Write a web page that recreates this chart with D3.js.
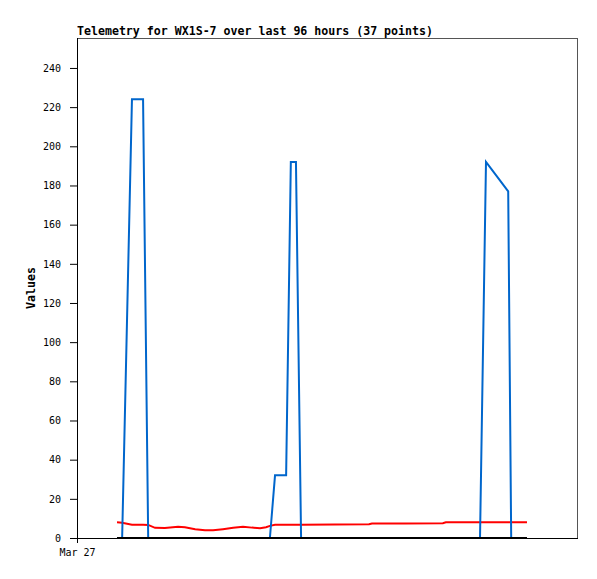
<!DOCTYPE html>
<html><head><meta charset="utf-8">
<script src="https://cdn.jsdelivr.net/npm/d3@7"></script>
<style>body{margin:0;background:#fff}svg{display:block}</style>
</head><body>
<script>
// hours since first sample
const hours = [0,1.2,3.5,6.1,7.3,8.9,11.2,14.3,15.9,18.3,20.6,22.5,24.8,27.2,29.5,31.6,33.5,34.9,35.8,37.0,39.6,40.7,41.9,43.1,51.0,59.0,59.7,67.4,76.3,77.0,85.0,86.4,89.0,91.6,92.3,94.1,96.0];
const blueSeries = [0,0,224,224,0,0,0,0,0,0,0,0,0,0,0,0,0,0,0,32,32,192,192,0,0,0,0,0,0,0,0,192,184.5,177,0,0,0];
const redSeries = [8.0,7.8,6.8,6.8,6.7,5.2,5.1,5.8,5.5,4.5,3.9,3.9,4.5,5.2,5.8,5.3,5.0,5.5,6.2,6.8,6.8,6.8,6.8,6.8,6.9,7.0,7.4,7.4,7.5,8.0,8.0,8.0,8.0,8.0,8.0,8.0,8.0];
const blackSeries = hours.map(() => 0);
const yTicks = [0,20,40,60,80,100,120,140,160,180,200,220,240];
const xTickLabel = "Mar 27";
const titleText = "Telemetry for WX1S-7 over last 96 hours (37 points)";

const W = 597, H = 579;
const L = 77, R = 577, T = 38, B = 538;
const svg = d3.select("body").append("svg").attr("width", W).attr("height", H);
const mono = "'DejaVu Sans Mono', monospace";

const x = d3.scaleLinear().domain([-9.37, 107.71]).range([L, R]);
const y = d3.scaleLinear().domain([0, 255.3]).range([B, T]);

// frame
svg.append("rect").attr("x", L + 0.5).attr("y", T + 0.5).attr("width", R - L).attr("height", B - T)
  .attr("fill", "none").attr("stroke", "#555").attr("stroke-width", 1);

const line = d3.line().x((d, i) => x(hours[i])).y(d => y(d));
svg.append("path").datum(redSeries).attr("d", line).attr("fill", "none").attr("stroke", "#ff0000").attr("stroke-width", 2);
svg.append("path").datum(blueSeries).attr("d", line).attr("fill", "none").attr("stroke", "#0066cc").attr("stroke-width", 2);
svg.append("path").datum(blackSeries).attr("d", line).attr("fill", "none").attr("stroke", "#000").attr("stroke-width", 2);

// y axis
const ya = svg.append("g").attr("transform", `translate(${L},0)`)
  .call(d3.axisLeft(y).tickValues(yTicks).tickSize(7).tickPadding(9));
ya.select(".domain").remove();
ya.selectAll("text").attr("font-family", mono).attr("font-size", "10px").attr("fill", "#000");
ya.selectAll("line").attr("stroke", "#000");

// x axis
const xa = svg.append("g").attr("transform", `translate(0,${B})`)
  .call(d3.axisBottom(x).tickValues([x.invert(L)]).tickFormat(() => xTickLabel).tickSize(5).tickPadding(6));
xa.select(".domain").remove();
xa.selectAll("text").attr("font-family", mono).attr("font-size", "10px").attr("fill", "#000");
xa.selectAll("line").attr("stroke", "#000");

// left & bottom axis lines
svg.append("line").attr("x1", L + 0.5).attr("x2", L + 0.5).attr("y1", T).attr("y2", B + 1).attr("stroke", "#000");
svg.append("line").attr("x1", L).attr("x2", R + 1).attr("y1", B + 0.5).attr("y2", B + 0.5).attr("stroke", "#000");

svg.append("text").attr("x", L).attr("y", 35).attr("font-family", mono).attr("font-weight", "bold")
  .attr("font-size", "11.6px").text(titleText);
svg.append("text").attr("transform", `translate(35,${(T + B) / 2}) rotate(-90)`).attr("text-anchor", "middle")
  .attr("font-family", mono).attr("font-weight", "bold").attr("font-size", "11.6px").text("Values");
</script>
</body></html>
